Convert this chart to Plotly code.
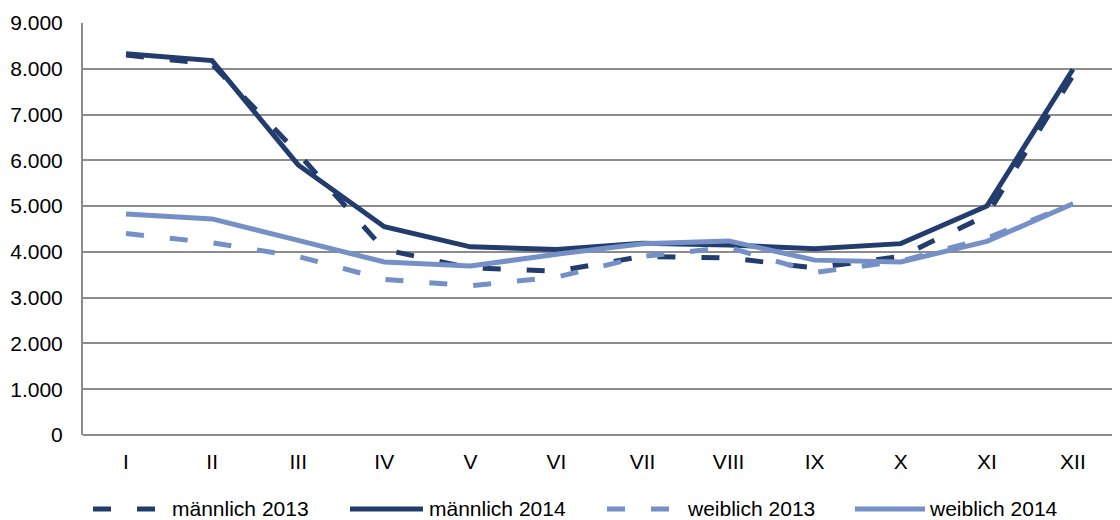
import plotly.graph_objects as go

months = ["I", "II", "III", "IV", "V", "VI", "VII", "VIII", "IX", "X", "XI", "XII"]

maennlich_2013 = [8300, 8100, 6150, 4050, 3650, 3580, 3900, 3870, 3650, 3900, 4800, 7850]
maennlich_2014 = [8330, 8180, 5900, 4550, 4110, 4050, 4190, 4150, 4070, 4180, 5000, 7990]
weiblich_2013 = [4400, 4200, 3900, 3400, 3260, 3450, 3900, 4100, 3550, 3800, 4300, 5050]
weiblich_2014 = [4830, 4720, 4250, 3780, 3690, 3950, 4180, 4240, 3820, 3780, 4230, 5050]

dark = "#233C6E"
light = "#7490C6"
long_dash = "18px,26px"

series = [
    ("männlich 2013", maennlich_2013, dark, long_dash),
    ("männlich 2014", maennlich_2014, dark, "solid"),
    ("weiblich 2013", weiblich_2013, light, long_dash),
    ("weiblich 2014", weiblich_2014, light, "solid"),
]

# plot area in figure pixels (gridlines run to the right edge)
L, T, W, H = 75, 15, 1037, 412
FIG_W, FIG_H = 1112, 512
CAT_W = 1033 / 12

fig = go.Figure()
for name, vals, color, dash in series:
    fig.add_trace(go.Scatter(
        x=months, y=vals, name=name, mode="lines",
        line=dict(color=color, width=5, dash=dash),
        showlegend=False,
    ))

# legend drawn below the plot: line sample + label
def px(x):
    return (x - L) / W

def py(y):
    return (T + H - y) / H

legend_pos = [(85, 154, 162), (342, 415, 419), (599, 669, 677), (847, 917, 919)]
leg_y = 501
for (name, vals, color, dash), (x0, x1, xt) in zip(series, legend_pos):
    fig.add_shape(type="line", xref="paper", yref="paper",
                  x0=px(x0), x1=px(x1), y0=py(leg_y), y1=py(leg_y),
                  line=dict(color=color, width=5, dash=dash))
    fig.add_annotation(text=name, xref="paper", yref="paper",
                       x=px(xt), y=py(leg_y), xanchor="left", yanchor="middle",
                       showarrow=False, font=dict(size=21))

fig.update_layout(
    width=FIG_W, height=FIG_H,
    plot_bgcolor="white", paper_bgcolor="white",
    margin=dict(l=L, r=FIG_W - L - W, t=T, b=FIG_H - T - H),
    separators=",.",
    showlegend=False,
    font=dict(family="Liberation Sans, Arial, sans-serif", size=21, color="black"),
    xaxis=dict(
        showgrid=False, zeroline=False, showline=False, automargin=False,
        ticks="", range=[-0.5, -0.5 + W / CAT_W], ticklabelstandoff=12,
    ),
    yaxis=dict(
        range=[0, 9000], dtick=1000, tickformat=",d", automargin=False,
        showgrid=True, gridcolor="#8C8C8C", gridwidth=1.5,
        zeroline=True, zerolinecolor="#8C8C8C", zerolinewidth=2,
        showline=True, linecolor="#8C8C8C", linewidth=2,
        ticks="", ticklabelstandoff=14,
    ),
)

fig.write_html("out.html")
